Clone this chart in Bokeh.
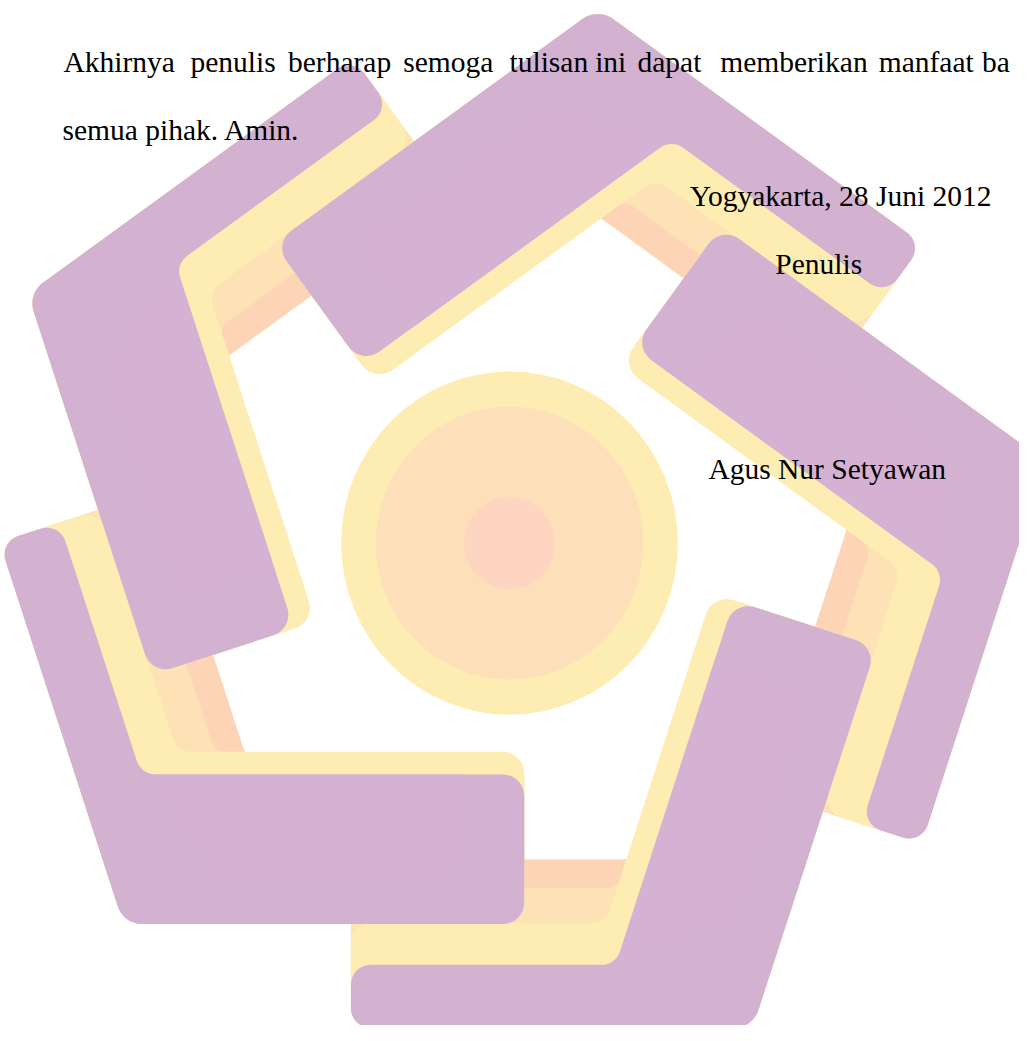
import math
from bokeh.plotting import figure
from bokeh.models import Range1d
from bokeh.core.properties import value
from bokeh.embed import file_html
from bokeh.resources import INLINE

# ---------------- data ----------------
line1_words = ["Akhirnya", "penulis", "berharap", "semoga", "tulisan", "ini",
               "dapat", "memberikan", "manfaat", "ba"]
line2_words = ["semua pihak. Amin."]
sign_lines = ["Yogyakarta, 28 Juni 2012", "Penulis", "Agus Nur Setyawan"]

piece_rotations = [0, -72, -144, -216, -288]          # five-fold watermark logo
layer_names = ["peach", "light orange", "yellow", "purple"]
thick_arm_widths = [165, 172, 175, 152]
thin_arm_widths = [171, 142, 106, 64]
circle_names = ["outer ring", "inner disc", "centre dot"]
circle_diameters = [342, 272, 92]

# ---------------- layout / style ----------------
PAGE_W, PAGE_H = 1035.0, 1041.0
FIG_W, FIG_H = 1019, 1025
OX, OY = 517.0, 551.0                 # logo centre (page pixels)
CORNER = (125.0, 938.0)               # outer corner of the reference piece
ARM1_LEN, ARM2_LEN = 407.0, 408.0
layer_colors = ["#FDD5B6", "#FDE2B5", "#FEEDB3", "#D3B1D0"]
highlight_color = "#D5B2D4"
circle_colors = ["#FEEDB3", "#FDE0B9", "#FDD5C0"]
FONT = value("'Liberation Serif', 'Times New Roman', Times, serif")
FSIZE = "%.1fpx" % (30.0 * FIG_W / PAGE_W)

line1_x = [64, 193, 292, 409, 517, 604, 647, 731, 892, 997]
line1_y = 62
line2_x, line2_y = 63, 132
sign_x = [700, 787, 719]
sign_y = [199, 268, 476]


def add(a, b, s=1.0):
    return (a[0] + b[0] * s, a[1] + b[1] * s)


def norm(v):
    l = math.hypot(v[0], v[1])
    return (v[0] / l, v[1] / l)


def rounded(pts, radii, seg=10):
    out = []
    n = len(pts)
    for i in range(n):
        P = pts[i]
        A = pts[i - 1]
        B = pts[(i + 1) % n]
        r = radii[i]
        if r <= 0:
            out.append(P)
            continue
        u1 = norm((A[0] - P[0], A[1] - P[1]))
        u2 = norm((B[0] - P[0], B[1] - P[1]))
        c = max(-1.0, min(1.0, u1[0] * u2[0] + u1[1] * u2[1]))
        phi = math.acos(c)
        t = r / math.tan(phi / 2)
        T1 = add(P, u1, t)
        T2 = add(P, u2, t)
        bis = norm((u1[0] + u2[0], u1[1] + u2[1]))
        C = add(P, bis, r / math.sin(phi / 2))
        a1 = math.atan2(T1[1] - C[1], T1[0] - C[0])
        a2 = math.atan2(T2[1] - C[1], T2[0] - C[0])
        da = a2 - a1
        while da > math.pi:
            da -= 2 * math.pi
        while da < -math.pi:
            da += 2 * math.pi
        for k in range(seg + 1):
            a = a1 + da * k / seg
            out.append((C[0] + r * math.cos(a), C[1] + r * math.sin(a)))
    return out


def rot(pts, deg):
    a = math.radians(deg)
    ca, sa = math.cos(a), math.sin(a)
    res = []
    for x, y in pts:
        dx, dy = x - OX, y - OY
        res.append((OX + dx * ca - dy * sa, OY + dx * sa + dy * ca))
    return res


u = (1.0, 0.0)                        # thick arm direction
n1 = (0.0, -1.0)                      # inward normal of thick arm
ang = math.radians(-108)
w = (math.cos(ang), math.sin(ang))    # thin arm direction
n2 = (-w[1], w[0])                    # inward normal of thin arm
if n2[0] < 0:
    n2 = (w[1], -w[0])


def l_shape(T1, T2):
    P0 = CORNER
    E1o = add(P0, u, ARM1_LEN)
    E1i = add(E1o, n1, T1)
    E2o = add(P0, w, ARM2_LEN)
    E2i = add(E2o, n2, T2)
    base = add(P0, n2, T2)
    s = ((P0[1] - T1) - base[1]) / w[1]
    V = add(base, w, s)
    pts = [P0, E1o, E1i, V, E2i, E2o]
    return rounded(pts, [26, 22, 22, 20, 20, 20])


def highlight():
    P0 = CORNER
    yin = P0[1] - thick_arm_widths[3]
    ylo = P0[1] - 45
    xend = P0[0] + ARM1_LEN - 62
    base = add(P0, n2, thin_arm_widths[3])
    s1 = (yin - base[1]) / w[1]
    s2 = (ylo - base[1]) / w[1]
    A = add(base, w, s1)
    B = add(base, w, s2)
    pts = [A, (xend, yin), (xend, ylo), (B[0] + 40, ylo)]
    return rounded(pts, [0, 0, 24, 0])


p = figure(width=FIG_W, height=FIG_H, x_range=Range1d(0, PAGE_W), y_range=Range1d(PAGE_H, 0),
           output_backend="svg", toolbar_location=None, min_border=0,
           x_axis_location=None, y_axis_location=None)
p.xgrid.visible = False
p.ygrid.visible = False
p.outline_line_color = None
p.background_fill_color = "white"
p.border_fill_color = "white"

# centre circles
for d, col in zip(circle_diameters, circle_colors):
    p.ellipse(x=[OX], y=[OY], width=[d], height=[d * 1.02], fill_color=col, line_color=None)

# watermark pieces, layer by layer
for T1, T2, col, name in zip(thick_arm_widths, thin_arm_widths, layer_colors, layer_names):
    shape = l_shape(T1, T2)
    xs, ys = [], []
    for r in piece_rotations:
        poly = rot(shape, r)
        xs.append([q[0] for q in poly])
        ys.append([q[1] for q in poly])
    p.patches(xs=xs, ys=ys, fill_color=col, line_color=None)

hl = highlight()
xs, ys = [], []
for r in piece_rotations:
    poly = rot(hl, r)
    xs.append([q[0] for q in poly])
    ys.append([q[1] for q in poly])
p.patches(xs=xs, ys=ys, fill_color=highlight_color, line_color=None)

# text
common = dict(text_font=FONT, text_font_size=FSIZE, text_color="#000000",
              text_baseline="alphabetic", text_align="left")
p.text(x=line1_x, y=[line1_y] * len(line1_words), text=line1_words, **common)
p.text(x=[line2_x], y=[line2_y], text=line2_words, **common)
p.text(x=sign_x, y=sign_y, text=sign_lines, **common)

open("out.html", "w").write(file_html(p, INLINE))
